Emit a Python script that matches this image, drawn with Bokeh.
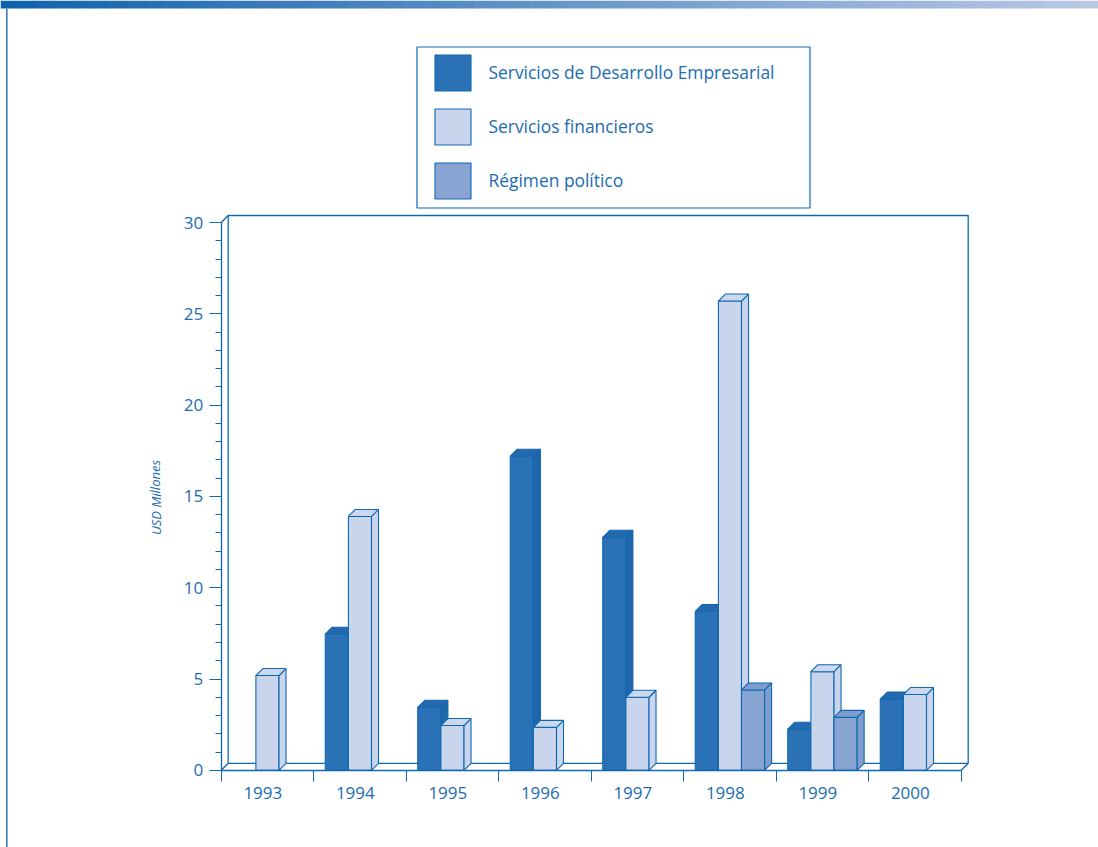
from bokeh.embed import file_html
from bokeh.resources import INLINE
from bokeh.plotting import figure
from bokeh.models import (Range1d, FixedTicker, Label, Legend, LegendItem,
                          ColumnDataSource, LinearAxis)

years = ["1993", "1994", "1995", "1996", "1997", "1998", "1999", "2000"]
desarrollo = [None, 7.45, 3.45, 17.2, 12.76, 8.7, 2.25, 3.9]
financieros = [5.19, 13.9, 2.45, 2.35, 4.0, 25.7, 5.4, 4.15]
politico = [None, None, None, None, None, 4.4, 2.9, None]
names = ["Servicios de Desarrollo Empresarial", "Servicios financieros", "Régimen político"]
fronts = ["#2A72B5", "#C8D5EC", "#88A4D3"]
sides = ["#1F66AB", "#C8D5EC", "#7F9DCC"]
tops = ["#2469AD", "#CBD8EE", "#7F9DCC"]

BLUE = "#1068B2"
TEXT = "#1B6CB2"
FONT = "Open Sans"

W, H = 1098, 847
PX_X, PX_Y = 92.5, 18.26      # pixels per category / per million
X_LEFT, Y_ZERO = 220.7, 769.8 # pixel position of the axes' origin
DX, DY = 7 / PX_X, 7 / PX_Y   # depth of the 3D effect
BAR = 0.25
ORIGIN = -0.45                # labels sit slightly left of the group centres
SHIFT = 0.05

p = figure(width=W, height=H, output_backend="svg", toolbar_location=None,
           x_range=Range1d(ORIGIN - X_LEFT / PX_X, ORIGIN + (W - X_LEFT) / PX_X),
           y_range=Range1d(-(H - Y_ZERO) / PX_Y, Y_ZERO / PX_Y),
           x_axis_location=None, y_axis_location=None,
           min_border=0, outline_line_color=None, border_fill_color="white")
p.grid.visible = False


def sx(px):
    return ORIGIN + (px - X_LEFT) / PX_X


def sy(px):
    return (Y_ZERO - px) / PX_Y


# top band (gradient), page rule
c0, c1 = (15, 98, 174), (186, 199, 228)
n = 60
band = ["#%02x%02x%02x" % tuple(round(a + (b - a) * i / (n - 1)) for a, b in zip(c0, c1)) for i in range(n)]
p.quad(left=[sx(i * W / n) for i in range(n)], right=[sx((i + 1) * W / n + 0.5) for i in range(n)],
       top=sy(0), bottom=sy(8), fill_color=band, line_color=None)
p.quad(left=sx(5.7), right=sx(7), top=sy(8), bottom=sy(H), fill_color="#0F5FAE", line_color=None)

# walls and floor of the 3D box
x0, x1, y1 = ORIGIN, ORIGIN + 8, 30
p.multi_line(xs=[[x0 + DX, x0 + DX, x1 + DX, x1 + DX, x0 + DX], [x0, x0 + DX], [x1, x1 + DX], [x0, x0 + DX]],
             ys=[[DY, y1 + DY, y1 + DY, DY, DY], [0, DY], [0, DY], [y1, y1 + DY]],
             line_color=BLUE, line_width=1.3)

# bars
legend_items = []
for k, vals in enumerate([desarrollo, financieros, politico]):
    xs = [i for i, v in enumerate(vals) if v is not None]
    hs = [v for v in vals if v is not None]
    left = [i + SHIFT + (k - 1.5) * BAR for i in xs]
    right = [l + BAR for l in left]
    src = ColumnDataSource(dict(left=left, right=right, top=hs))
    q = p.quad(left="left", right="right", bottom=0, top="top", source=src,
               fill_color=fronts[k], line_color=BLUE, line_width=1.1)
    p.patches(xs=[[r, r + DX, r + DX, r] for r in right],
              ys=[[0, DY, h + DY, h] for h in hs],
              fill_color=sides[k], line_color=BLUE, line_width=1.1)
    p.patches(xs=[[l, l + DX, r + DX, r] for l, r in zip(left, right)],
              ys=[[h, h + DY, h + DY, h] for h in hs],
              fill_color=tops[k], line_color=BLUE, line_width=1.1)
    legend_items.append(LegendItem(label=names[k], renderers=[q]))

# axes
xa = LinearAxis(fixed_location=0)
xa.ticker = FixedTicker(ticks=list(range(8)), minor_ticks=[ORIGIN + i for i in range(9)])
xa.major_label_overrides = {i: y for i, y in enumerate(years)}
xa.bounds = (ORIGIN, ORIGIN + 8)
xa.major_tick_in = xa.major_tick_out = 0
xa.minor_tick_in = 0
xa.minor_tick_out = 11
xa.major_label_standoff = 6
ya = LinearAxis(fixed_location=ORIGIN)
ya.ticker = FixedTicker(ticks=[0, 5, 10, 15, 20, 25, 30], minor_ticks=list(range(31)))
ya.bounds = (0, 30)
ya.major_tick_in = 0
ya.major_tick_out = 12
ya.minor_tick_in = 0
ya.minor_tick_out = 6
ya.major_label_standoff = 6
for a in (xa, ya):
    a.axis_line_color = BLUE
    a.axis_line_width = 1.3
    a.major_tick_line_color = BLUE
    a.minor_tick_line_color = BLUE
    a.major_label_text_color = TEXT
    a.major_label_text_font = FONT
    a.major_label_text_font_size = "17px"
p.add_layout(xa, "below")
p.add_layout(ya, "left")

# y title
p.add_layout(Label(x=sx(155), y=sy(497), text="USD Millones", angle=1.5708,
                   angle_units="rad", text_font=FONT, text_font_style="italic", text_font_size="13px",
                   text_color=TEXT, text_align="center", text_baseline="middle"))

# legend frame and legend
p.quad(left=sx(416.5), right=sx(809.5), top=sy(46.5), bottom=sy(207.5),
       fill_color=None, line_color=BLUE, line_width=1.2)
legend = Legend(items=legend_items, location=(429.5, H - 202.7), padding=0, margin=0, spacing=9,
                glyph_width=45, glyph_height=45, label_standoff=14,
                border_line_color=None, background_fill_color=None,
                label_text_color=TEXT, label_text_font=FONT, label_text_font_size="17.4px")
p.add_layout(legend, "center")

open("out.html", "w").write(file_html(p, INLINE))
